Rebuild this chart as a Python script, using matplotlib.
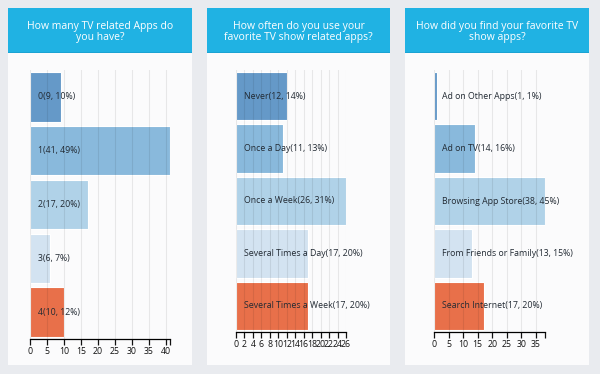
import matplotlib.pyplot as plt
from matplotlib.patches import Rectangle

plt.rcParams["font.family"] = ["Open Sans", "DejaVu Sans"]

# survey data
titles = [
    "How many TV related Apps do\nyou have?",
    "How often do you use your\nfavorite TV show related apps?",
    "How did you find your favorite TV\nshow apps?",
]
cats_apps = ["0", "1", "2", "3", "4"]
vals_apps = [9, 41, 17, 6, 10]
pct_apps = [10, 49, 20, 7, 12]

cats_often = ["Never", "Once a Day", "Once a Week", "Several Times a Day", "Several Times a Week"]
vals_often = [12, 11, 26, 17, 17]
pct_often = [14, 13, 31, 20, 20]

cats_find = ["Ad on Other Apps", "Ad on TV", "Browsing App Store", "From Friends or Family", "Search Internet"]
vals_find = [1, 14, 38, 13, 17]
pct_find = [1, 16, 45, 15, 20]

bar_colors = ["#6599c8", "#89b9dc", "#b0d2e8", "#d3e3f1", "#e8704a"]
header_color = "#20b2e3"
bg_color = "#e9ebef"

W, H = 600, 374
fig = plt.figure(figsize=(W / 100, H / 100), dpi=100)
fig.patch.set_facecolor(bg_color)


def px_rect(x0, y0, x1, y1):
    # pixel box (top-left origin) -> figure fraction [l, b, w, h]
    return [x0 / W, 1 - y1 / H, (x1 - x0) / W, (y1 - y0) / H]


def panel(x0, x1, title):
    l, b, w, h = px_rect(x0, 53, x1, 365)
    fig.patches.append(Rectangle((l, b), w, h, transform=fig.transFigure,
                                 facecolor="#fbfbfc", edgecolor="none", zorder=-2))
    l, b, w, h = px_rect(x0, 8, x1, 53)
    fig.patches.append(Rectangle((l, b), w, h, transform=fig.transFigure,
                                 facecolor=header_color, edgecolor="none", zorder=-2))
    l, b, w, h = px_rect(x0, 52, x1, 53)
    fig.patches.append(Rectangle((l, b), w, h, transform=fig.transFigure,
                                 facecolor="#1ba3d3", edgecolor="none", zorder=-1))
    fig.text((x0 + x1) / 2 / W, 1 - 32 / H, title, ha="center", va="center",
             color="white", fontsize=7.5, linespacing=1.0)


def bar_chart(rect, cats, vals, pcts, xmax, ticks):
    ax = fig.add_axes(px_rect(*rect))
    ax.set_facecolor("none")
    ys = range(len(cats))
    ax.barh(ys, vals, height=0.92, color=bar_colors, edgecolor="white",
            linewidth=0.8, zorder=2)
    for y, c, v, p in zip(ys, cats, vals, pcts):
        ax.annotate(f"{c}({v}, {p}%)", (0, y), xytext=(5.5, 0),
                    textcoords="offset points", va="center", ha="left",
                    fontsize=6.3, color="#222a33", zorder=4)
    ax.set_xlim(0, xmax)
    ax.set_ylim(len(cats) - 0.5, -0.5)
    labels = [str(t) for t in ticks]
    grid = list(ticks)
    if xmax not in ticks:
        ticks = ticks + [xmax]
        labels = labels + [""]
    ax.set_xticks(ticks)
    ax.set_xticklabels(labels)
    for t in grid:
        ax.axvline(t, color="black", alpha=0.08, linewidth=0.8, zorder=3)
    for s in ["top", "right", "left"]:
        ax.spines[s].set_visible(False)
    ax.spines["bottom"].set_linewidth(0.9)
    ax.set_yticks([])
    ax.tick_params(axis="x", length=4, width=0.9, pad=2, labelsize=6.3,
                   colors="#111111")
    return ax


panel(8, 192, titles[0])
panel(207, 390, titles[1])
panel(405, 589, titles[2])

bar_chart((30, 70, 169.5, 339), cats_apps, vals_apps, pct_apps, 41,
          list(range(0, 41, 5)))
bar_chart((236, 70, 346, 332), cats_often, vals_often, pct_often, 26,
          list(range(0, 27, 2)))
bar_chart((434, 70, 544.7, 332), cats_find, vals_find, pct_find, 38,
          list(range(0, 36, 5)))

fig.savefig("out.png", dpi=100, facecolor=bg_color)
